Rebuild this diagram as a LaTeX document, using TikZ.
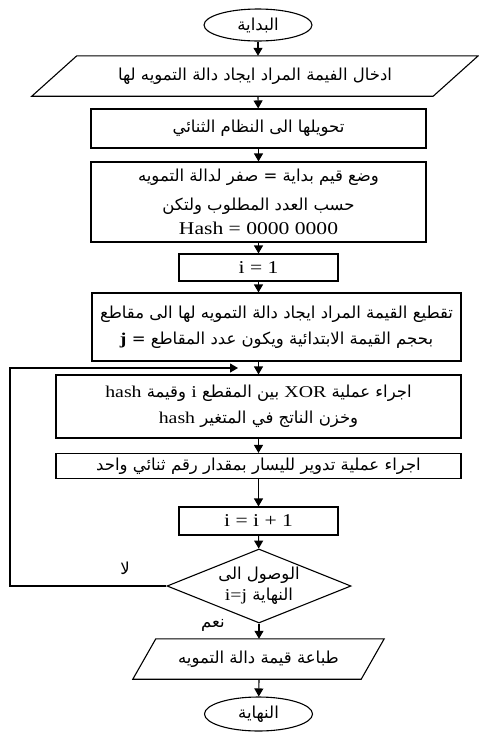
\documentclass[tikz,border=0pt]{standalone}
\usepackage{fontspec}
\setmainfont{Liberation Serif}[FakeStretch=1.2]
\newfontfamily\arabicfont[Script=Arabic]{DejaVu Sans}
\TeXXeTstate=1
\usetikzlibrary{shapes.geometric,arrows.meta}
\newcommand{\artext}[1]{{\arabicfont\beginR #1\endR}}
\tikzset{
    flowline/.style={line width=1.1pt,-{Triangle[length=8pt,width=9pt]}},
    process/.style={draw,rectangle,line width=1.1pt,inner sep=2pt,align=center},
    terminal/.style={draw,ellipse,line width=1.1pt,inner sep=0pt},
    inout/.style={rectangle,inner sep=0pt},
    slanted/.style={line width=1.1pt,line join=miter},
    decision/.style={draw,diamond,line width=1.1pt,inner sep=0pt,aspect=2.5,align=center},
    latin/.style={font=\fontsize{18}{24}\selectfont}
}
\begin{document}
\begin{tikzpicture}[
        x=1pt,y=-1pt,
        every node/.style={font=\fontsize{16.5}{24}\selectfont}
    ]
    \useasboundingbox (0,0) rectangle (479,732);
% Shapes
    \node[terminal,minimum width=108,minimum height=32] (start) at (258,25) {\artext{البداية}};
    \node[inout,minimum width=446,minimum height=40] (input) at (255,76)
        {\artext{ادخال الفيمة المراد ايجاد دالة التمويه لها}};
    \draw[slanted] (input.south west) -- ([xshift=-45]input.south east)
        -- (input.north east) -- ([xshift=45]input.north west) -- cycle;
    \node[process,minimum width=335,minimum height=39] (binary) at (258.5,128.5)
        {\artext{تحويلها الى النظام الثنائي}};
    \node[process,minimum width=335,minimum height=80] (init) at (258.5,202)
        {\artext{وضع قيم بداية = صفر لدالة التمويه}\\[5pt]
         \artext{حسب العدد المطلوب ولتكن}\\[0pt]
         {\fontsize{18}{20}\selectfont Hash = 0000 0000}};
    \node[process,latin,minimum width=159,minimum height=27] (ione) at (258.5,267.5) {i = 1};
    \node[process,minimum width=369,minimum height=68] (split) at (276.5,327)
        {\artext{تقطيع القيمة المراد ايجاد دالة التمويه لها الى مقاطع}\\[2pt]
         \artext{بحجم القيمة الابتدائية ويكون عدد المقاطع = {\rmfamily\bfseries j}}};
    \node[process,minimum width=405,minimum height=63] (xor) at (258.5,406.5)
        {\artext{اجراء عملية {\rmfamily XOR} بين المقطع {\rmfamily i} وقيمة {\rmfamily hash}}\\[2pt]
         \artext{وخزن الناتج في المتغير {\rmfamily hash}}};
    \node[process,minimum width=405,minimum height=25] (rotate) at (258.5,466)
        {\artext{اجراء عملية تدوير لليسار بمقدار رقم ثنائي واحد}};
    \node[process,latin,minimum width=159,minimum height=28] (inc) at (258.5,521) {i = i + 1};
    \node[decision,minimum width=184,minimum height=74] (check) at (259,586)
        {\artext{الوصول الى}\\[-3pt]\artext{النهاية {\rmfamily i=j}}};
    \node[inout,minimum width=251,minimum height=40] (output) at (258.5,659)
        {\artext{طباعة قيمة دالة التمويه}};
    \draw[slanted] (output.south west) -- ([xshift=-23]output.south east)
        -- (output.north east) -- ([xshift=23]output.north west) -- cycle;
    \node[terminal,minimum width=108,minimum height=34] (end) at (258.5,714) {\artext{النهاية}};
% Labels
    \node (no) at (125,568) {\artext{لا}};
    \node (yes) at (213,625) {\artext{نعم}};
% Connectors
    \coordinate (loopend) at (238,368);
    \draw[flowline] (start) -- (start.south |- input.north);
    \draw[flowline] (start.south |- input.south) -- (binary);
    \draw[flowline] (binary) -- (init);
    \draw[flowline] (init) -- (ione);
    \draw[flowline] (ione.south) -- (ione.south |- split.north);
    \draw[flowline] (ione.south |- split.south) -- (xor.north);
    \draw[flowline] (xor) -- (rotate);
    \draw[flowline] (rotate) -- (inc);
    \draw[flowline] (inc) -- (check);
    \draw[flowline] (check) -- (check.south |- output.north);
    \draw[flowline] (check.south |- output.south) -- (end);
    \draw[flowline] (check.west) -- (10,586) -- (10,368) -- (loopend);
\end{tikzpicture}
\end{document}
